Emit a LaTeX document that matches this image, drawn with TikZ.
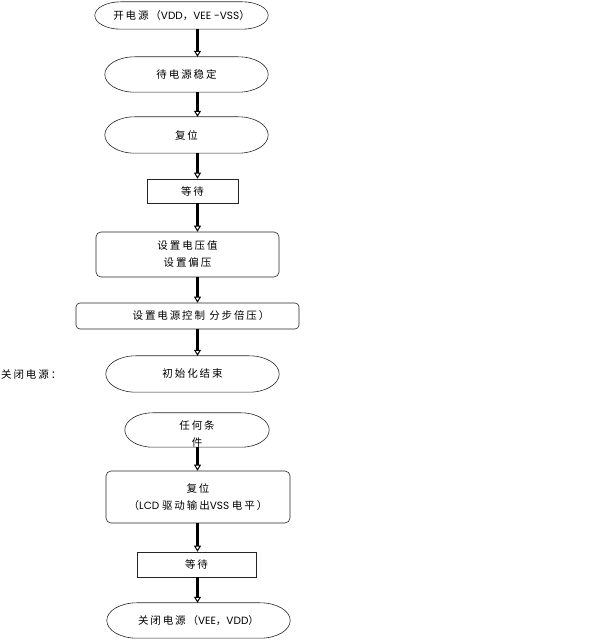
\documentclass[tikz,border=0pt]{standalone}
\usepackage{fontspec}
\setmainfont{Poppins}
\newfontfamily\cjk[LetterSpace=18]{Noto Sans CJK SC}
\usetikzlibrary{arrows.meta,calc}
\newcommand\stadoutline[2]{%
  \draw[outline] let \p1=(#1.north west), \p2=(#1.south east), \n1={0.5*(\y1-\y2)} in
   (\x1+#2,\y1) -- (\x2-#2,\y1)
   arc[start angle=90,end angle=-90,x radius=#2,y radius=\n1]
   -- (\x1+#2,\y2)
   arc[start angle=270,end angle=90,x radius=#2,y radius=\n1] -- cycle;}
\begin{document}
\begin{tikzpicture}[x=1pt,y=1pt,
  outline/.style={draw=black!85,line width=0.6pt},
  txt/.style={inner sep=0pt,align=center,font=\fontsize{10.5}{17}\selectfont},
  box/.style={txt,outline},
  rbox/.style={box,rounded corners=5pt},
  stad/.style={txt},
  flow/.style={draw=black,line width=2.4pt,-{Triangle[open,length=6pt,width=7pt,line width=1pt]}}]
\useasboundingbox (0,0) rectangle (593,640);
\coordinate (ax) at (197.5,0);

\node[stad,minimum width=173,minimum height=27] (n1) at (181.5,624.5)
  {{\cjk 开电源（}VDD{\cjk ，}VEE -VSS{\cjk ）}};
\node[stad,minimum width=163,minimum height=35] (n2) at (186.5,565.5) {\cjk 待电源稳定};
\node[stad,minimum width=163,minimum height=36] (n3) at (186.5,505) {\cjk 复位};
\node[box,minimum width=91,minimum height=24] (n4) at (192.5,449) {\cjk 等待};
\node[rbox,minimum width=183,minimum height=45] (n5) at (187.5,385.5)
  {{\cjk 设置电压值}\\{\cjk 设置偏压}};
\node[rbox,rounded corners=4pt,minimum width=223,minimum height=26] (n6) at (187.5,324)
  {\hspace*{27pt}{\cjk 设置电源控制 分步倍压）}};
\node[stad,minimum width=173,minimum height=36] (n7) at (192.5,266) {\cjk 初始化结束};
\node[txt,anchor=west] (lab) at (1,265) {\cjk 关闭电源：};

\node[stad,minimum width=144,minimum height=34] (n9) at (197,210)
  {\smash{\begin{tabular}[t]{@{}c@{}}{\cjk 任何条}\\{\cjk 件}\end{tabular}}};
\node[rbox,minimum width=184,minimum height=52] (n10) at (198,143)
  {{\cjk 复位}\\{\cjk （}LCD {\cjk 驱动输出}VSS {\cjk 电平）}};
\node[box,minimum width=119,minimum height=25] (n11) at (196.5,75.5) {\cjk 等待};
\node[stad,minimum width=183,minimum height=35] (n12) at (198.5,19.5)
  {{\cjk 关闭电源（}VEE{\cjk ，}VDD{\cjk ）}};

\stadoutline{n1}{26pt}
\stadoutline{n2}{30pt}
\stadoutline{n3}{30pt}
\stadoutline{n7}{30pt}
\stadoutline{n9}{28pt}
\stadoutline{n12}{30pt}

\draw[flow] (n1.south -| ax) -- (n2.north -| ax);
\draw[flow] (n2.south -| ax) -- (n3.north -| ax);
\draw[flow] (n3.south -| ax) -- (n4.north -| ax);
\draw[flow] (n4.south -| ax) -- (n5.north -| ax);
\draw[flow] (n5.south -| ax) -- (n6.north -| ax);
\draw[flow] (n6.south -| ax) -- (n7.north -| ax);
\draw[flow] (n9.south -| ax) -- (n10.north -| ax);
\draw[flow] (n10.south -| ax) -- (n11.north -| ax);
\draw[flow] (n11.south -| ax) -- (n12.north -| ax);
\end{tikzpicture}
\end{document}
